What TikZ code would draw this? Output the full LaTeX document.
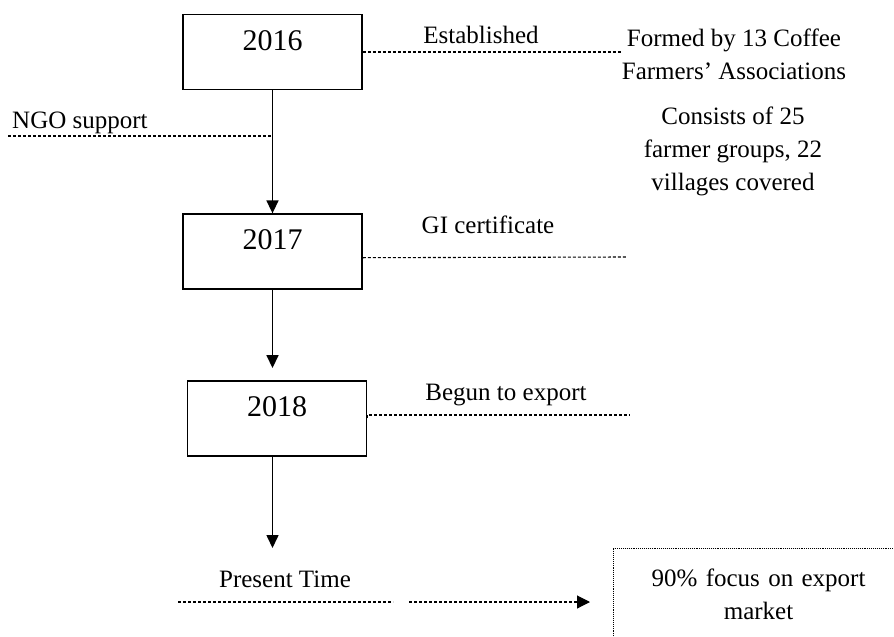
\documentclass[tikz,border=0pt]{standalone}
\usepackage{fontspec}
\setmainfont{Liberation Serif}
\usetikzlibrary{positioning, arrows.meta}

\begin{document}
\begin{tikzpicture}[
    x=1pt, y=-1pt,
    yearbox/.style={rectangle, draw, line width=1.7pt, minimum width=179pt, minimum height=75pt, text height=22pt, text depth=26pt, font=\fontsize{30}{36}\selectfont},
    note/.style={align=center, inner sep=0pt, font=\fontsize{25}{33}\selectfont},
    resultbox/.style={rectangle, draw, densely dotted, line width=1.1pt, minimum width=290pt, minimum height=92pt, text width=270pt, align=center, font=\fontsize{25}{33}\selectfont},
    arrow/.style={-{Triangle[length=13pt, width=12pt]}, line width=1.6pt},
    link/.style={line width=1.1pt, dash pattern=on 3pt off 2pt},
    node distance=0.1cm
]
    \useasboundingbox (0,0) rectangle (894,637);
    \clip (0,0) rectangle (894,637);

    % Years
    \node[yearbox] (y16) at (272.5,52) {2016};
    \node[yearbox, below=123pt of y16] (y17) {2017};
    \node[yearbox, below=90pt of y17, xshift=4.5pt] (y18) {2018};

    % Notes on the right
    \node[note] (formed) at (734,54) {Formed by 13 Coffee\\Farmers' Associations};
    \node[note] (consists) at (733,151) {Consists of 25\\farmer groups, 22\\villages covered};

    % Timeline arrows
    \coordinate (now) at (272.5,548);
    \draw[arrow] (y16.south) -- (y17.north);
    \draw[arrow] (y17.south) -- ([yshift=12pt]y17.south |- y18.north);
    \draw[arrow] (now |- y18.south) -- (now);

    % NGO support
    \coordinate (ngo) at (8,136);
    \draw[link] (ngo) -- (ngo -| y16.south);
    \node[note, anchor=base west] (ngotext) at (12,128) {NGO support};

    % Events
    \draw[link] (y16.east) -- (y16.east -| formed.west);
    \node[note, anchor=base] (est) at (481,43) {Established};

    \coordinate (giend) at (627,257);
    \draw[link] ([yshift=-6pt]y17.east) -- (giend);
    \node[note, anchor=base] (gi) at (488,233) {GI certificate};

    \coordinate (exportend) at (629,415);
    \draw[link] (y18.east) -- (exportend -| y18.east) -- (exportend);
    \node[note, anchor=base] (export) at (506,400) {Begun to export};

    % Present time
    \node[note, anchor=base] (present) at (285,587) {Present Time};
    \node[resultbox, anchor=north west] (focus) at (613,548) {90\% focus on export\\market};
    \coordinate (pt1) at (178,602);
    \coordinate (pt2) at (393,602);
    \coordinate (pt3) at (409,602);
    \draw[link] (pt1) -- (pt2);
    \draw[link, -{Triangle[length=13pt, width=13pt]}, shorten >=23pt] (pt3) -- (focus.west |- pt3);

\end{tikzpicture}
\end{document}
